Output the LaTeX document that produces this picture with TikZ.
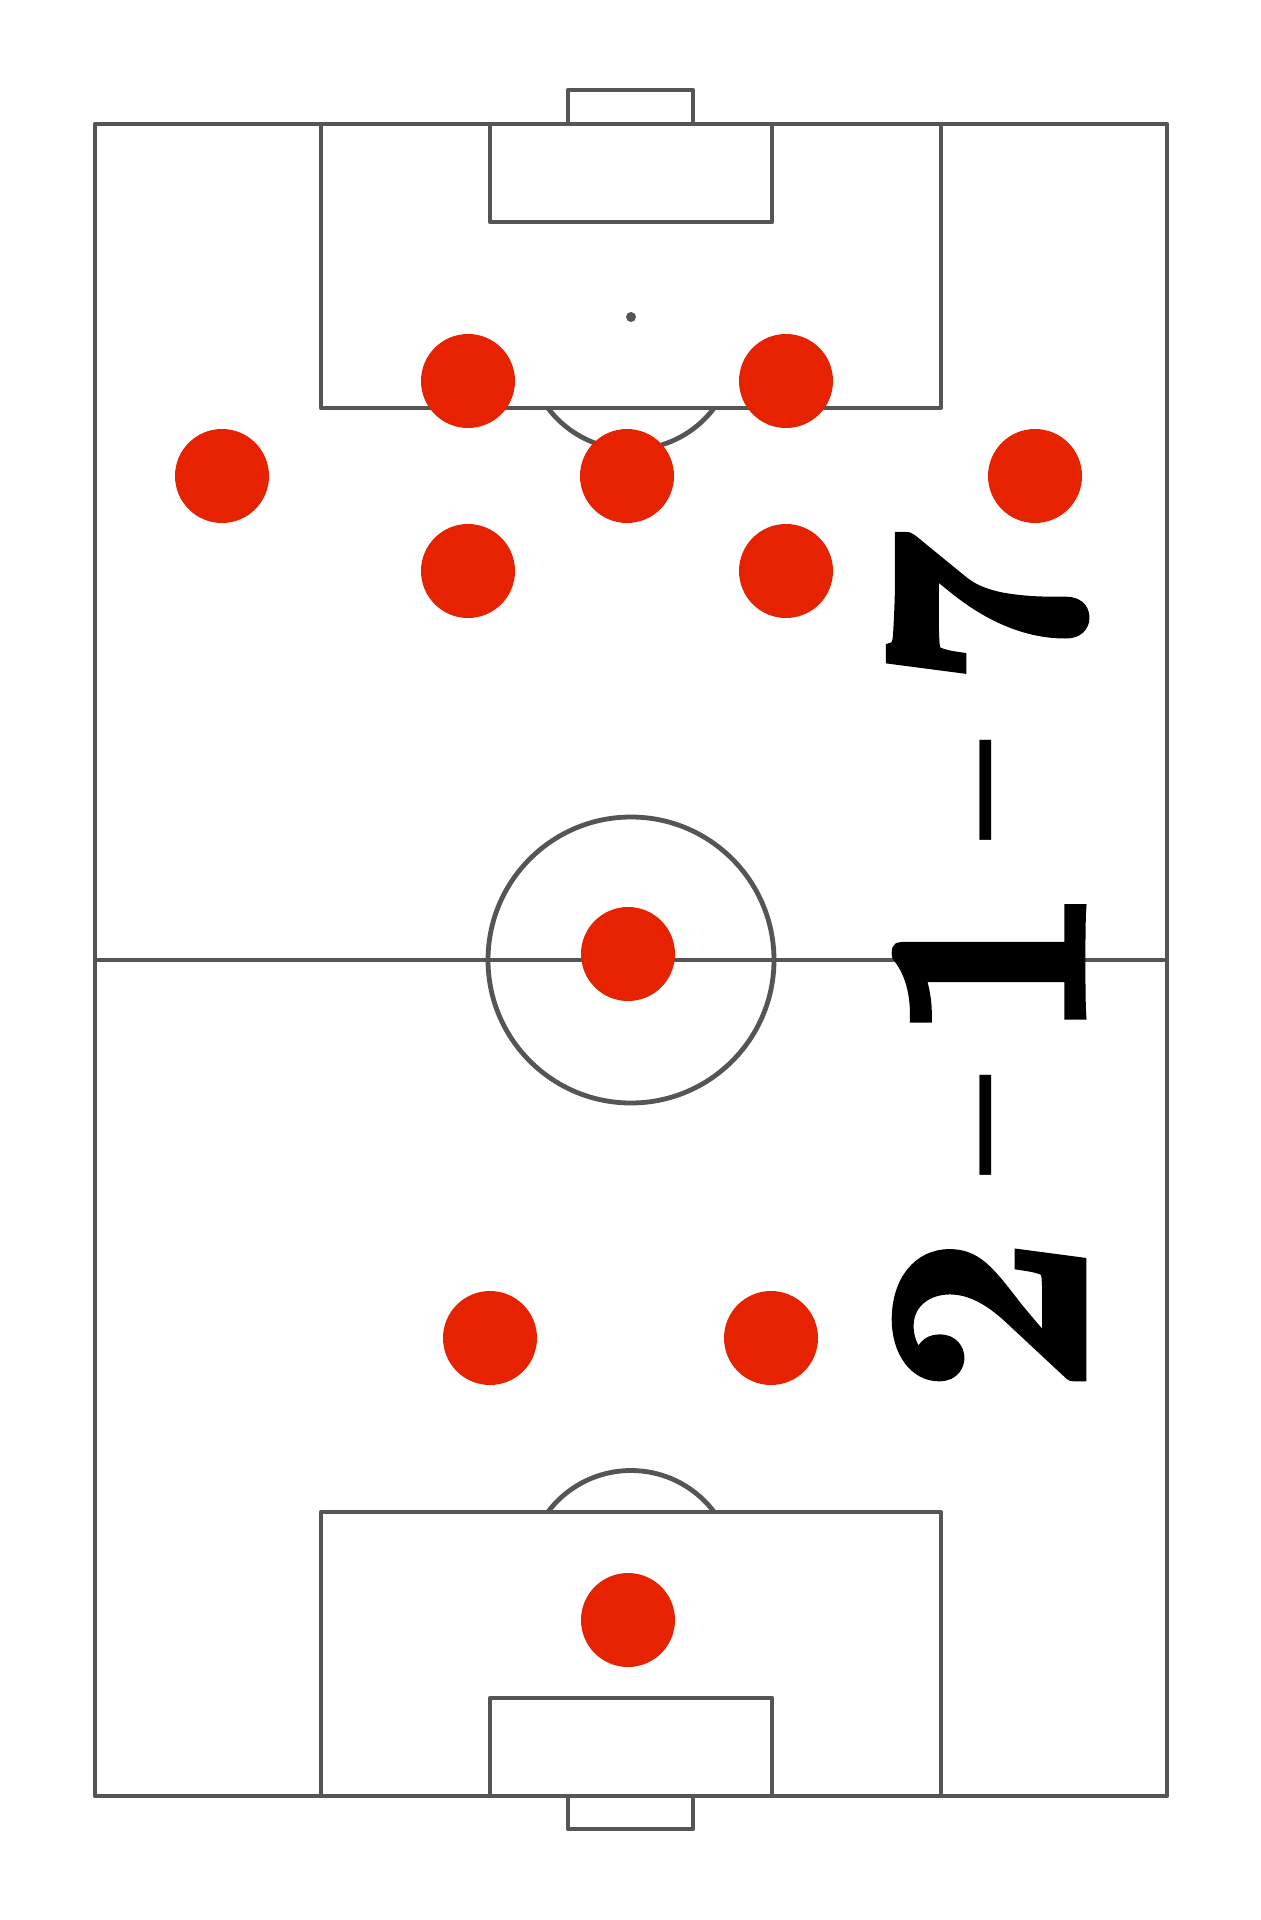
\documentclass[tikz,border=0pt]{standalone}
\usepackage{fontspec}
\newfontfamily\labelfont{lmroman10-bold.otf}[FakeBold=3]
\newfontfamily\dashfont{lmroman10-regular.otf}
\newcommand{\fdash}{{\dashfont\fontsize{184}{184}\selectfont\raisebox{26.5pt}{\scalebox{1.08}[0.55]{-}}}}
\definecolor{pitchline}{RGB}{85,85,85}
\definecolor{playerred}{RGB}{230,34,0}
\begin{document}
\begin{tikzpicture}[x=0.5pt,y=-0.5pt,
  pline/.style={draw=pitchline,line width=2.4pt,line join=round},
  player/.style={circle,fill=playerred,inner sep=0pt,minimum size=47pt}]
\useasboundingbox (0,0) rectangle (1261,1920);
\fill[white] (0,0) rectangle (1261,1920);
% pitch outline and halfway line
\draw[pline] (95,124) rectangle (1167,1796);
\draw[pline] (95,960) -- (1167,960);
\draw[pline] (631,960) circle (143);
% top end
\draw[pline] (321,124) rectangle (941,408);
\draw[pline] (490,124) rectangle (772,222);
\draw[pline] (568,124) -- (568,90) -- (693,90) -- (693,124);
\fill[pitchline] (631,317) circle (5);
\begin{scope}
  \clip (0,408) rectangle (1261,700);
  \draw[pline] (631,345.5) circle (104);
\end{scope}
% bottom end
\draw[pline] (321,1512) rectangle (941,1796);
\draw[pline] (490,1698) rectangle (772,1796);
\draw[pline] (568,1796) -- (568,1829) -- (693,1829) -- (693,1796);
\begin{scope}
  \clip (0,1200) rectangle (1261,1512);
  \draw[pline] (631,1574.5) circle (104);
\end{scope}
% players
\node[player] (lw) at (222,476) {};
\node[player] (lf) at (468,381) {};
\node[player] (rf) at (786,381) {};
\node[player] (cf) at (627,476) {};
\node[player] (rw) at (1035,476) {};
\node[player] (lm) at (468,571) {};
\node[player] (rm) at (786,571) {};
\node[player] (cm) at (628,954) {};
\node[player] (lb) at (490,1338) {};
\node[player] (rb) at (771,1338) {};
\node[player] (gk) at (628,1620) {};
% formation label
\node[rotate=90,anchor=base,inner sep=0pt,font=\fontsize{142}{142}\selectfont\labelfont] (formation) at (1082,962)
  {\scalebox{0.95}[1]{2\kern30.5pt\fdash\kern6.5pt 1\kern22pt\fdash\kern17pt 7}};
\end{tikzpicture}
\end{document}
